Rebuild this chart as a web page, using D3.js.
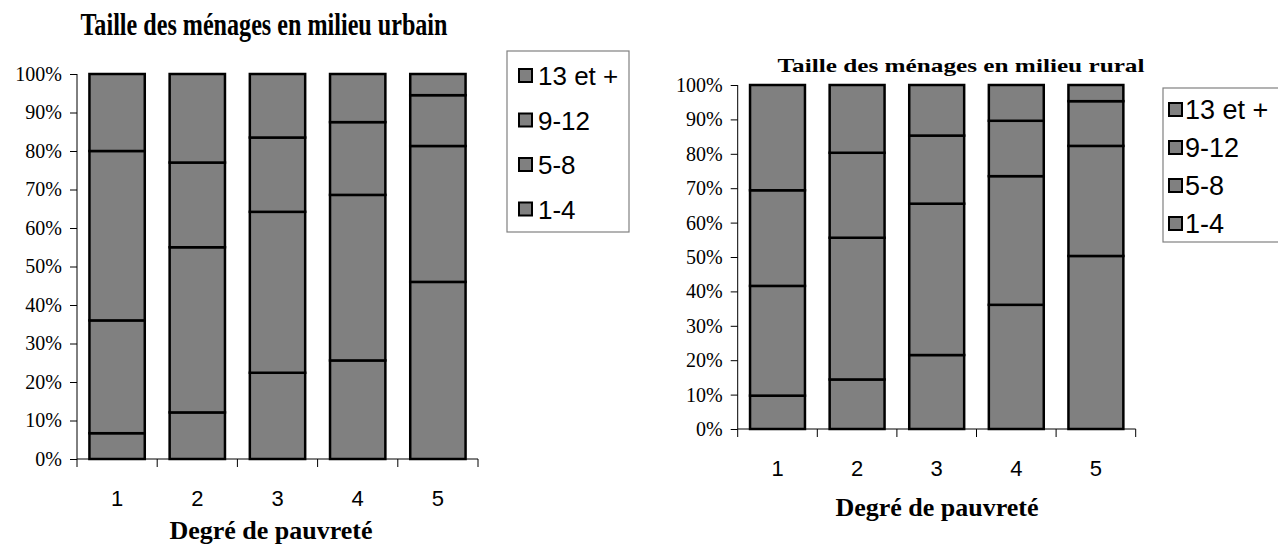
<!DOCTYPE html>
<html><head><meta charset="utf-8">
<script src="https://cdn.jsdelivr.net/npm/d3@7"></script>
<style>body{margin:0;background:#fff}svg{display:block}</style>
</head><body>
<svg id="c" width="1278" height="545"></svg>
<script>
const categories = ["1","2","3","4","5"];
const seriesNames = ["1-4","5-8","9-12","13 et +"];
const yTicks = [0,0.1,0.2,0.3,0.4,0.5,0.6,0.7,0.8,0.9,1];
// shares (%) per poverty degree
const urbain_1_4   = [6.7, 12.1, 22.4, 25.6, 46.0];
const urbain_5_8   = [29.3, 42.9, 41.8, 43.0, 35.3];
const urbain_9_12  = [44.0, 22.0, 19.3, 18.9, 13.2];
const urbain_13p   = [20.0, 23.0, 16.5, 12.5, 5.5];
const rural_1_4    = [9.7, 14.4, 21.5, 36.1, 50.3];
const rural_5_8    = [31.9, 41.2, 44.0, 37.4, 32.0];
const rural_9_12   = [27.8, 24.7, 19.8, 16.1, 13.0];
const rural_13p    = [30.6, 19.7, 14.7, 10.4, 4.7];

const svg = d3.select("#c");
const SERIF = "'Liberation Serif','Times New Roman',serif";
const SANS = "'Liberation Sans',Arial,sans-serif";

function chart(cfg){
  const series=[cfg.s1,cfg.s2,cfg.s3,cfg.s4];
  const rows = categories.map((c,i)=>{const o={cat:c}; seriesNames.forEach((n,k)=>o[n]=series[k][i]); return o;});
  const stack = d3.stack().keys(seriesNames).offset(d3.stackOffsetExpand)(rows);
  const x = d3.scaleBand().domain(categories).range([cfg.x0,cfg.x1]).paddingInner(0.31).paddingOuter(0.155);
  const y = d3.scaleLinear().domain([0,1]).range([cfg.y0,cfg.y1]);
  const g = svg.append("g");
  // y axis
  const ya = g.append("g").attr("transform",`translate(${cfg.x0},0)`)
    .call(d3.axisLeft(y).tickValues(yTicks).tickFormat(d3.format(".0%")).tickSize(7).tickPadding(8));
  ya.select(".domain").remove();
  ya.selectAll(".tick line").attr("stroke","#000");
  ya.selectAll("text").attr("font-family",SERIF).attr("font-size",cfg.ytf).attr("fill","#000");
  g.append("line").attr("x1",cfg.x0).attr("x2",cfg.x0).attr("y1",cfg.y1).attr("y2",cfg.y0+8).attr("stroke","#000");
  // x axis line with ticks between categories
  g.append("line").attr("x1",cfg.x0).attr("x2",cfg.x1).attr("y1",cfg.y0).attr("y2",cfg.y0).attr("stroke","#000");
  const step = x.step();
  categories.forEach((c,i)=>{
    const bx = x(c) - x.paddingInner()*step/2 + step;
    g.append("line").attr("x1",bx).attr("x2",bx).attr("y1",cfg.y0).attr("y2",cfg.y0+8).attr("stroke","#000");
  });
  // bars
  stack.forEach(s=>{
    g.append("g").selectAll("rect").data(s).join("rect")
      .attr("x",d=>x(d.data.cat)).attr("width",x.bandwidth())
      .attr("y",d=>y(d[1])).attr("height",d=>y(d[0])-y(d[1]))
      .attr("fill","#808080").attr("stroke","#000").attr("stroke-width",2.5);
  });
  // x labels
  g.selectAll(".xl").data(categories).join("text")
    .attr("x",d=>x(d)+x.bandwidth()/2).attr("y",cfg.xly).attr("text-anchor","middle")
    .attr("font-family",SANS).attr("font-size",22).text(d=>d);
  g.append("text").attr("x",cfg.xtx).attr("y",cfg.xty).attr("text-anchor","middle")
    .attr("font-family",SERIF).attr("font-weight","bold").attr("font-size",26).text("Degré de pauvreté");
  g.append("text").attr("x",cfg.tx).attr("y",cfg.ty).attr("text-anchor","middle")
    .attr("font-family",SERIF).attr("font-weight","bold").attr("font-size",cfg.tf)
    .attr("textLength",cfg.tw).attr("lengthAdjust","spacingAndGlyphs").text(cfg.title);
  // legend
  const L=cfg.leg;
  g.append("rect").attr("x",L.x).attr("y",L.y).attr("width",L.w).attr("height",L.h).attr("fill","#fff").attr("stroke","#808080").attr("stroke-width",1.2);
  seriesNames.slice().reverse().forEach((n,i)=>{
    const cy=L.y+L.first+i*L.gap;
    g.append("rect").attr("x",L.x+L.sx).attr("y",cy-7).attr("width",13).attr("height",13)
      .attr("fill","#808080").attr("stroke","#000").attr("stroke-width",2);
    g.append("text").attr("x",L.x+L.tx).attr("y",cy+9).attr("font-family",SANS).attr("font-size",L.f).text(n);
  });
}

chart({s1:urbain_1_4,s2:urbain_5_8,s3:urbain_9_12,s4:urbain_13p,
  x0:77,x1:478,y0:459,y1:74,ytf:20,xly:506,xtx:271,xty:539,
  title:"Taille des ménages en milieu urbain",tx:264,ty:35,tf:31,tw:367,
  leg:{x:507,y:51,w:122,h:181,first:25,gap:44.5,sx:12,tx:31,f:26}});
chart({s1:rural_1_4,s2:rural_5_8,s3:rural_9_12,s4:rural_13p,
  x0:737.7,x1:1135.7,y0:429,y1:85,ytf:20,xly:476,xtx:937,xty:516,
  title:"Taille des ménages en milieu rural",tx:961,ty:72,tf:19,tw:367,
  leg:{x:1163,y:88,w:130,h:154,first:22,gap:38,sx:6,tx:22,f:27}});
</script>
</body></html>
